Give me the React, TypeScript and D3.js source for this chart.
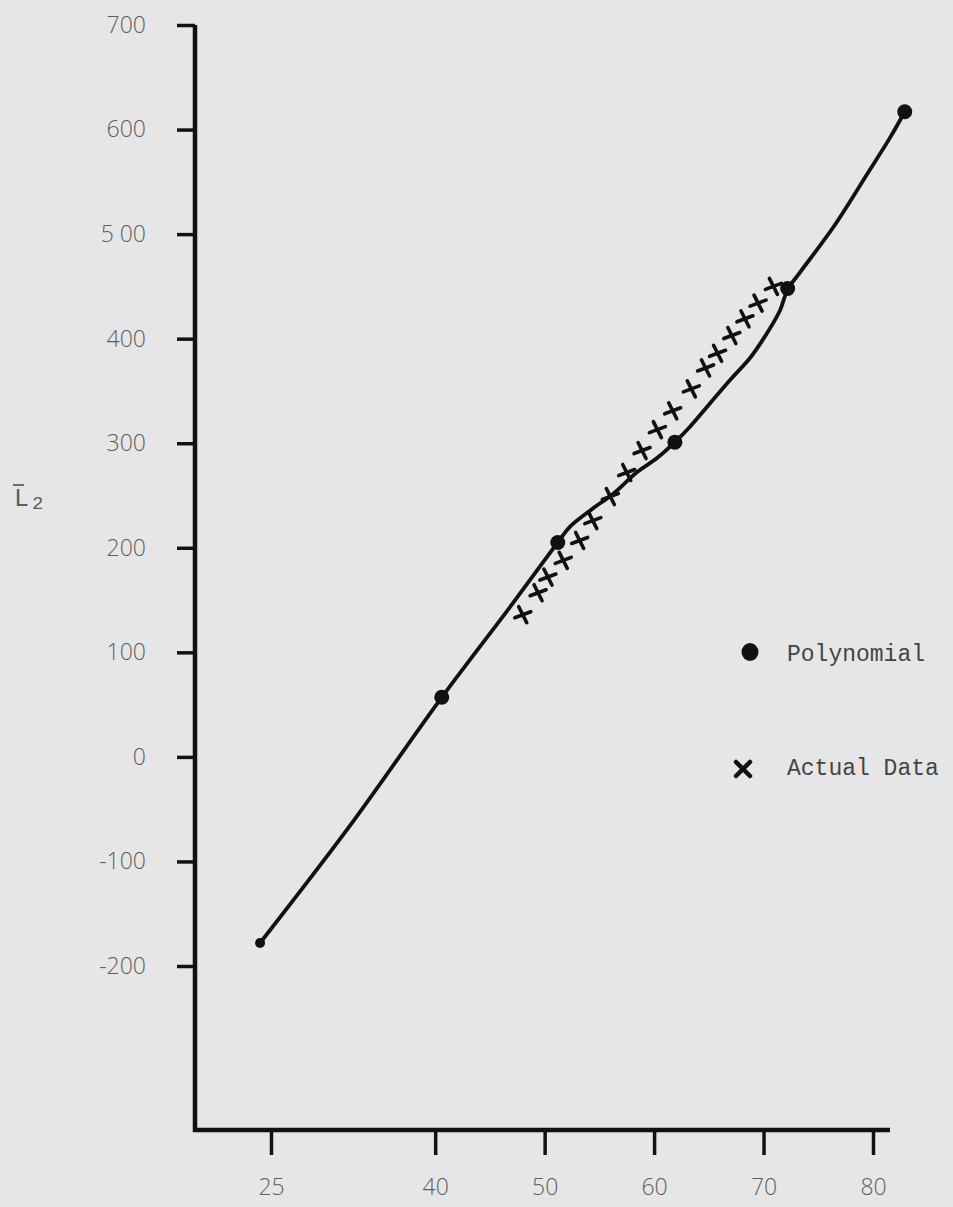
import React, { useEffect, useRef } from 'react';
import * as d3 from 'd3';

// tick values on both axes
const xTicks = [25, 40, 50, 60, 70, 80];
const yTicks = [700, 600, 500, 400, 300, 200, 100, 0, -100, -200];
const yTickLabels = ['700', '600', '5 00', '400', '300', '200', '100', '0', '-100', '-200'];

// polynomial values (filled dots)
const polyX = [24.0, 40.6, 51.2, 61.9, 72.2, 82.9];
const polyY = [-178, 57, 205, 301, 448, 617];

// the hand drawn curve through the polynomial values
const curveX = [24.0, 32.2, 40.6, 47.1, 50.2, 51.2, 52.3, 54.2, 56.3, 58.4, 60.3, 61.9, 63.3, 65.1, 66.9, 68.8, 70.3, 71.5, 72.2, 73.3, 76.4, 79.5, 81.6, 82.9];
const curveY = [-178, -66, 57, 147, 191, 205, 220, 236, 252, 272, 286, 301, 316, 338, 360, 382, 405, 427, 447, 463, 507, 558, 593, 617];

// actual data (crosses)
const actualX = [48.0, 49.4, 50.3, 51.7, 53.2, 54.4, 56.0, 57.5, 58.9, 60.3, 61.7, 63.4, 64.7, 65.8, 67.1, 68.3, 69.5, 70.9];
const actualY = [136, 157, 172, 188, 207, 226, 249, 272, 293, 313, 331, 352, 372, 386, 403, 419, 434, 450];

const legendLabels = ['Polynomial', 'Actual Data'];

const W = 953;
const H = 1207;

export default function App() {
    const svgRef = useRef<SVGSVGElement>(null);

    useEffect(() => {
        const svg = d3.select(svgRef.current);
        svg.selectAll('*').remove();

        const axisX = 195;
        const axisY = 1130;
        const ink = '#111';
        const pencil = '#5e5e5e';

        const x = d3.scaleLinear().domain([25, 80]).range([271, 873]);
        const y = d3.scaleLinear().domain([-200, 700]).range([966, 25]);

        // paper
        svg.append('rect').attr('width', W).attr('height', H).attr('fill', '#e6e6e6');

        // y axis
        const yAxis = svg.append('g')
            .attr('transform', `translate(${axisX},0)`)
            .call(d3.axisLeft(y).tickValues(yTicks).tickSize(18).tickPadding(31)
                .tickFormat((d, i) => yTickLabels[i]));
        yAxis.select('.domain').remove();
        yAxis.selectAll('line').attr('stroke', ink).attr('stroke-width', 3.5);
        yAxis.selectAll('text')
            .attr('fill', pencil)
            .style('font-family', '"Open Sans", sans-serif')
            .style('font-weight', 300)
            .style('font-size', '23px');

        // x axis
        const xAxis = svg.append('g')
            .attr('transform', `translate(0,${axisY})`)
            .call(d3.axisBottom(x).tickValues(xTicks).tickSize(25).tickPadding(24)
                .tickFormat(d3.format('d')));
        xAxis.select('.domain').remove();
        xAxis.selectAll('line').attr('stroke', ink).attr('stroke-width', 3.5);
        xAxis.selectAll('text')
            .attr('fill', pencil)
            .style('font-family', '"Open Sans", sans-serif')
            .style('font-weight', 300)
            .style('font-size', '23px');

        // axis lines drawn as one L shape
        svg.append('path')
            .attr('d', `M${axisX},${y(700)}V${axisY}H890`)
            .attr('fill', 'none')
            .attr('stroke', ink)
            .attr('stroke-width', 4.5)
            .attr('stroke-linejoin', 'miter');

        // y label: L-bar subscript 2
        const yl = svg.append('g').attr('fill', pencil).style('font-family', '"Liberation Mono", monospace');
        yl.append('text').attr('x', 14).attr('y', 506).style('font-size', '25px').text('L');
        yl.append('text').attr('x', 32).attr('y', 509).style('font-size', '19px').text('2');
        yl.append('line').attr('x1', 13).attr('x2', 24).attr('y1', 485).attr('y2', 485)
            .attr('stroke', pencil).attr('stroke-width', 1.8);

        // curve
        const curve = curveX.map((cx, i) => [cx, curveY[i]] as [number, number]);
        const line = d3.line<[number, number]>()
            .x((d) => x(d[0]))
            .y((d) => y(d[1]))
            .curve(d3.curveCatmullRom.alpha(0.5));
        svg.append('path')
            .attr('d', line(curve))
            .attr('fill', 'none')
            .attr('stroke', ink)
            .attr('stroke-width', 3.8)
            .attr('stroke-linecap', 'round');

        // polynomial dots
        svg.append('g').selectAll('circle')
            .data(polyX)
            .enter()
            .append('circle')
            .attr('cx', (d) => x(d))
            .attr('cy', (d, i) => y(polyY[i]))
            .attr('r', (d, i) => (i === 0 ? 5 : 7.5))
            .attr('fill', ink);

        // actual data crosses (hand drawn: one shallow stroke, one steep stroke)
        const cross = 'M-8,3L8,-3M-4,-8L4,8';
        svg.append('g').selectAll('path')
            .data(actualX)
            .enter()
            .append('path')
            .attr('transform', (d, i) => `translate(${x(d)},${y(actualY[i])})`)
            .attr('d', cross)
            .attr('fill', 'none')
            .attr('stroke', ink)
            .attr('stroke-width', 3.6)
            .attr('stroke-linecap', 'round');

        // legend
        const legend = svg.append('g').attr('transform', 'translate(750,0)');
        legend.append('ellipse').attr('cx', 0).attr('cy', 652).attr('rx', 8.5).attr('ry', 9).attr('fill', ink);
        legend.append('path')
            .attr('transform', 'translate(-7,769)')
            .attr('d', 'M-7,-7L7,7M7,-7L-7,7')
            .attr('stroke', ink)
            .attr('stroke-width', 4.5)
            .attr('stroke-linecap', 'round');
        legend.selectAll('text')
            .data(legendLabels)
            .enter()
            .append('text')
            .attr('x', 37)
            .attr('y', (d, i) => 661 + i * 114)
            .attr('fill', '#444')
            .style('font-family', '"Liberation Mono", monospace')
            .style('font-size', '23px')
            .text((d) => d);
    }, []);

    return (
        <svg ref={svgRef} width={W} height={H} style={{ position: 'absolute', left: 0, top: 0 }} />
    );
}
